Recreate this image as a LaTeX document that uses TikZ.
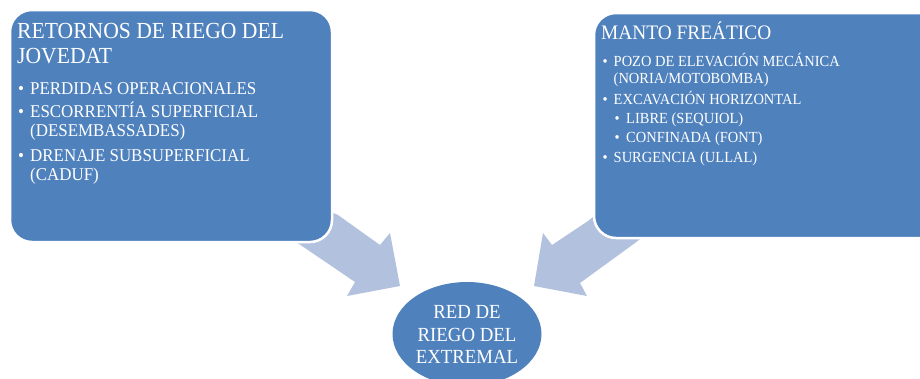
\documentclass[tikz,border=0pt]{standalone}
\usepackage{fontspec}
\setmainfont[FakeStretch=0.94]{Liberation Serif}
\usetikzlibrary{shapes.geometric}
\definecolor{boxblue}{HTML}{4F81BD}
\definecolor{arrowblue}{HTML}{B2C2DE}
\begin{document}
\begin{tikzpicture}[x=1pt,y=-1pt,
  blockbox/.style={fill=boxblue,draw=white,line width=2.5pt,rounded corners=22pt},
  blockarrow/.style={fill=arrowblue,draw=none},
  ln/.style={text=white,anchor=base west,inner sep=0pt},
  ltitle/.style={ln,font=\fontsize{23}{25}\selectfont},
  lbul/.style={ln,font=\fontsize{18}{20}\selectfont},
  rtitle/.style={ln,font=\fontsize{20.6}{22}\selectfont},
  rbul/.style={ln,font=\fontsize{15.4}{17}\selectfont}]
\useasboundingbox (0,0) rectangle (920,378);
% arrows (behind boxes)
\fill[blockarrow] (250,178) -- (338,215) -- (380,245) -- (390,233) -- (400,286) -- (347,296) -- (355,282) -- (305,248) -- (240,205) -- cycle;
\fill[blockarrow] (652,170) -- (588,221) -- (552,245) -- (543,233) -- (534,286) -- (587,296) -- (580,283) -- (635,243) -- (690,200) -- cycle;
% boxes
\draw[blockbox] (10,10) rectangle (332,242);
\draw[blockbox] (594,13) rectangle (950,238);
\node[ellipse,fill=boxblue,minimum width=149pt,minimum height=104pt,inner sep=0pt] (red) at (467,334) {};
\node[text=white,align=center,font=\fontsize{20}{22.5}\selectfont,inner sep=0pt,anchor=base] (red1) at (467,318) {RED DE};
\node[text=white,align=center,font=\fontsize{20}{22.5}\selectfont,inner sep=0pt,anchor=base] (red2) at (467,341) {RIEGO DEL};
\node[text=white,align=center,font=\fontsize{20}{22.5}\selectfont,inner sep=0pt,anchor=base] (red3) at (467,363) {EXTREMAL};
% left text
\node[ltitle] (lt1) at (17,38) {RETORNOS DE RIEGO DEL};
\node[ltitle] (lt2) at (17,63) {JOVEDAT};
\node[lbul] (lb0) at (18,94) {•};
\node[lbul] (lb1) at (30,94) {PERDIDAS OPERACIONALES};
\node[lbul] (lb2b) at (18,117) {•};
\node[lbul] (lb2) at (30,117) {ESCORRENTÍA SUPERFICIAL};
\node[lbul] (lb3) at (30,136.5) {(DESEMBASSADES)};
\node[lbul] (lb4b) at (18,161) {•};
\node[lbul] (lb4) at (30,161) {DRENAJE SUBSUPERFICIAL};
\node[lbul] (lb5) at (30,180) {(CADUF)};
% right text
\node[rtitle] (rt) at (601,39) {MANTO FREÁTICO};
\node[rbul] (rb1b) at (602.5,66) {•};
\node[rbul] (rb1) at (613.5,66) {POZO DE ELEVACIÓN MECÁNICA};
\node[rbul] (rb2) at (613.5,83) {(NORIA/MOTOBOMBA)};
\node[rbul] (rb3b) at (602.5,104) {•};
\node[rbul] (rb3) at (613.5,104) {EXCAVACIÓN HORIZONTAL};
\node[rbul] (rb4b) at (614.5,123) {•};
\node[rbul] (rb4) at (626,123) {LIBRE (SEQUIOL)};
\node[rbul] (rb5b) at (614.5,142) {•};
\node[rbul] (rb5) at (626,142) {CONFINADA (FONT)};
\node[rbul] (rb6b) at (602.5,162) {•};
\node[rbul] (rb6) at (613.5,162) {SURGENCIA (ULLAL)};
\end{tikzpicture}
\end{document}
